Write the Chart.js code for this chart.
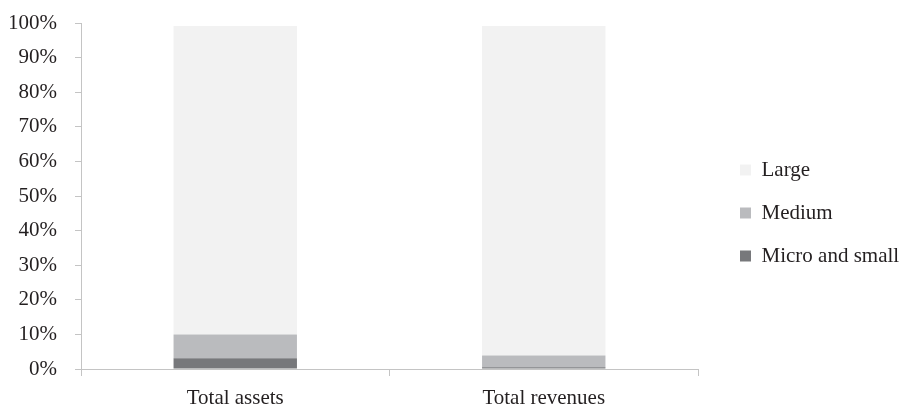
<!DOCTYPE html>
<html>
<head>
<meta charset="utf-8">
<script src="https://cdn.jsdelivr.net/npm/chart.js@4/dist/chart.umd.min.js"></script>
<style>
  html, body { margin: 0; padding: 0; background: #fff; }
  #wrap { width: 902px; height: 408px; position: relative; }
</style>
</head>
<body>
<div id="wrap"><canvas id="c"></canvas></div>
<script>
const categories = ["Total assets", "Total revenues"];
const microSmall = [3.1, 0.5];
const medium = [6.9, 3.4];
const large = [89.1, 95.2];
const yTicks = [0, 10, 20, 30, 40, 50, 60, 70, 80, 90, 100];

const axisColor = "#c4c4c4";
const textColor = "#231f20";
const fontFamily = "'Liberation Serif', 'Times New Roman', serif";
const FS = 21;

// Layout helper: reserve a fixed legend column and shift its items.
const LEGEND_W = 204;
const LEGEND_SHIFT = 20;
const LEGEND_LIFT = 9;
const legendLayout = {
  id: "legendLayout",
  afterInit(chart) {
    const lg = chart.legend;
    if (!lg) return;
    const orig = lg.fit.bind(lg);
    lg.fit = function () { orig(); this.width = LEGEND_W; };
  },
  afterLayout(chart) {
    const lg = chart.legend;
    if (!lg) return;
    lg.left += LEGEND_SHIFT;
    lg.right += LEGEND_SHIFT;
    lg.top -= LEGEND_LIFT;
    lg.bottom -= LEGEND_LIFT;
  }
};

new Chart(document.getElementById("c"), {
  type: "bar",
  data: {
    labels: categories,
    datasets: [
      { label: "Micro and small", data: microSmall, backgroundColor: "#77787b" },
      { label: "Medium", data: medium, backgroundColor: "#babbbe" },
      { label: "Large", data: large, backgroundColor: "#f2f2f2" }
    ]
  },
  plugins: [legendLayout],
  options: {
    responsive: true,
    maintainAspectRatio: false,
    animation: false,
    layout: { padding: { top: 23, left: 10, right: 0, bottom: -13 } },
    datasets: { bar: { barPercentage: 0.4, categoryPercentage: 1.0 } },
    plugins: {
      tooltip: { enabled: false },
      legend: {
        position: "right",
        reverse: true,
        labels: {
          boxWidth: 11,
          boxHeight: 11,
          padding: 22,
          color: textColor,
          font: { family: fontFamily, size: FS }
        }
      }
    },
    scales: {
      x: {
        stacked: true,
        afterFit: (axis) => { axis.paddingLeft = 0; axis.paddingRight = 0; },
        grid: {
          display: true,
          offset: true,
          drawOnChartArea: false,
          drawTicks: true,
          tickLength: 7,
          color: axisColor
        },
        border: { display: true, color: axisColor, width: 1 },
        ticks: {
          color: textColor,
          padding: 12,
          font: { family: fontFamily, size: FS, lineHeight: 1 }
        }
      },
      y: {
        stacked: true,
        min: 0,
        max: 100,
        afterBuildTicks: (axis) => { axis.ticks = yTicks.map(v => ({ value: v })); },
        afterFit: (axis) => { axis.width = 71; axis.paddingTop = 0; axis.paddingBottom = 0; },
        grid: {
          display: true,
          drawOnChartArea: false,
          drawTicks: true,
          tickLength: 6,
          color: axisColor
        },
        border: { display: true, color: axisColor, width: 1 },
        ticks: {
          color: textColor,
          padding: 18,
          font: { family: fontFamily, size: FS },
          callback: (v) => v + "%"
        }
      }
    }
  }
});
</script>
</body>
</html>
